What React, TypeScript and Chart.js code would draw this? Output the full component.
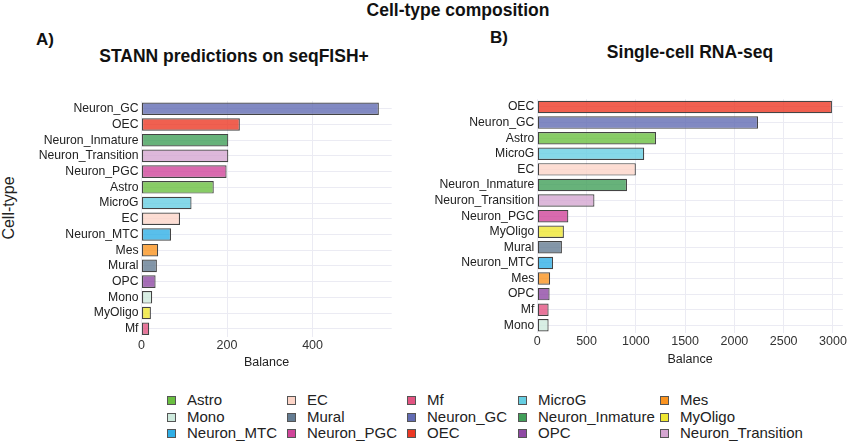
import React, { useEffect, useRef } from 'react';
import Chart from 'chart.js/auto';

// ---- data ----
const leftCategories = ['Neuron_GC', 'OEC', 'Neuron_Inmature', 'Neuron_Transition', 'Neuron_PGC', 'Astro', 'MicroG', 'EC', 'Neuron_MTC', 'Mes', 'Mural', 'OPC', 'Mono', 'MyOligo', 'Mf'];
const leftValues = [555, 230, 203, 203, 199, 169, 117, 90, 69, 39, 36, 33, 25, 22, 18];
const leftMax = 585;
const leftTicks = [0, 200, 400];

const rightCategories = ['OEC', 'Neuron_GC', 'Astro', 'MicroG', 'EC', 'Neuron_Inmature', 'Neuron_Transition', 'Neuron_PGC', 'MyOligo', 'Mural', 'Neuron_MTC', 'Mes', 'OPC', 'Mf', 'Mono'];
const rightValues = [2990, 2240, 1205, 1085, 1000, 910, 580, 315, 270, 250, 160, 130, 125, 115, 115];
const rightMax = 3100;
const rightTicks = [0, 500, 1000, 1500, 2000, 2500, 3000];

const legendLabels = ['Astro', 'EC', 'Mf', 'MicroG', 'Mes', 'Mono', 'Mural', 'Neuron_GC', 'Neuron_Inmature', 'MyOligo', 'Neuron_MTC', 'Neuron_PGC', 'OEC', 'OPC', 'Neuron_Transition'];

const mainTitle = 'Cell-type composition';
const leftTitle = 'STANN predictions on seqFISH+';
const rightTitle = 'Single-cell RNA-seq';
const xTitle = 'Balance';
const yTitle = 'Cell-type';

// ---- styles ----
const palette: Record<string, string> = {
  Astro: '#6ABF40',
  EC: '#FDD5C8',
  Mf: '#E25381',
  MicroG: '#66CEE2',
  Mes: '#FA931F',
  Mono: '#CEEADD',
  Mural: '#647C92',
  Neuron_GC: '#626CB3',
  Neuron_Inmature: '#419F59',
  MyOligo: '#EFE731',
  Neuron_MTC: '#30AFE6',
  Neuron_PGC: '#D0459A',
  OEC: '#EC3824',
  OPC: '#8F49A4',
  Neuron_Transition: '#D5A6D1',
};

const FONT = '"Liberation Sans", Arial, Helvetica, sans-serif';
const GRID = '#EBEBF3';
const BORDER = '#444444';

function rgba(hex: string, a: number) {
  const n = parseInt(hex.slice(1), 16);
  return `rgba(${(n >> 16) & 255},${(n >> 8) & 255},${n & 255},${a})`;
}

type PanelProps = {
  categories: string[];
  values: number[];
  max: number;
  tickValues: number[];
  width: number;
  height: number;
  yWidth: number;
  xHeight: number;
  padTop: number;
  padRight: number;
  titlePad: number;
};

function Panel(p: PanelProps) {
  const ref = useRef<HTMLCanvasElement | null>(null);
  useEffect(() => {
    if (!ref.current) return;
    const chart = new Chart(ref.current, {
      type: 'bar',
      data: {
        labels: p.categories,
        datasets: [
          {
            data: p.values,
            backgroundColor: p.categories.map((c) => rgba(palette[c], 0.8)),
            borderColor: BORDER,
            borderWidth: 1.2,
            borderSkipped: false,
            barPercentage: 0.8,
            categoryPercentage: 1,
          },
        ],
      },
      options: {
        indexAxis: 'y',
        animation: false,
        responsive: false,
        maintainAspectRatio: false,
        layout: { padding: { top: p.padTop, right: p.padRight, left: 0, bottom: 0 } },
        plugins: { legend: { display: false }, tooltip: { enabled: false } },
        scales: {
          x: {
            type: 'linear',
            min: 0,
            max: p.max,
            afterBuildTicks: (s: any) => {
              s.ticks = p.tickValues.map((v) => ({ value: v }));
            },
            ticks: {
              padding: 1,
              color: '#333',
              font: { family: FONT, size: 12.5 },
              callback: (v: any) => String(v),
            },
            grid: { color: GRID, drawTicks: false, lineWidth: 1 },
            border: { display: false },
            title: {
              display: true,
              text: xTitle,
              color: '#222',
              font: { family: FONT, size: 12.5 },
              padding: { top: 0, bottom: p.titlePad },
            },
            afterFit: (s: any) => {
              s.height = p.xHeight;
            },
          },
          y: {
            type: 'category',
            offset: true,
            ticks: { padding: 3, color: '#222', autoSkip: false, font: { family: FONT, size: 12.2 } },
            grid: { offset: false, color: GRID, drawTicks: false, lineWidth: 1 },
            border: { display: false },
            afterFit: (s: any) => {
              s.width = p.yWidth;
            },
          },
        },
      } as any,
    });
    return () => chart.destroy();
  }, []);
  return <canvas ref={ref} width={p.width} height={p.height} style={{ width: p.width, height: p.height, display: 'block' }} />;
}

const abs = (left: number, top: number): React.CSSProperties => ({ position: 'absolute', left, top });

export default function App() {
  const colBox = [167, 287, 407, 518, 660];
  const rowY = [400, 417, 433];
  return (
    <div style={{ position: 'absolute', left: 0, top: 0, width: 848, height: 444, background: '#fff', fontFamily: FONT, overflow: 'hidden' }}>
      <div style={{ ...abs(258, 0), width: 400, textAlign: 'center', fontWeight: 'bold', fontSize: 17.5, lineHeight: '20px', color: '#111' }}>{mainTitle}</div>
      <div style={{ ...abs(36, 30), fontWeight: 'bold', fontSize: 17, lineHeight: '20px', color: '#111' }}>A)</div>
      <div style={{ ...abs(34, 46), width: 400, textAlign: 'center', fontWeight: 'bold', fontSize: 17.5, lineHeight: '20px', color: '#111' }}>{leftTitle}</div>
      <div style={{ ...abs(490, 28), fontWeight: 'bold', fontSize: 17, lineHeight: '20px', color: '#111' }}>B)</div>
      <div style={{ ...abs(490, 42), width: 400, textAlign: 'center', fontWeight: 'bold', fontSize: 17.5, lineHeight: '20px', color: '#111' }}>{rightTitle}</div>
      <div
        style={{
          ...abs(9 - 50, 208 - 10),
          width: 100,
          height: 20,
          lineHeight: '20px',
          textAlign: 'center',
          fontSize: 16,
          color: '#222',
          transform: 'rotate(-90deg)',
        }}
      >
        {yTitle}
      </div>
      <div style={abs(0, 90)}>
        <Panel categories={leftCategories} values={leftValues} max={leftMax} tickValues={leftTicks} width={400} height={290} yWidth={141.5} xHeight={43.4} padTop={10.9} padRight={8.3} titlePad={9.5} />
      </div>
      <div style={abs(424, 88)}>
        <Panel categories={rightCategories} values={rightValues} max={rightMax} tickValues={rightTicks} width={424} height={290} yWidth={113.3} xHeight={44.9} padTop={11.2} padRight={4.7} titlePad={10.5} />
      </div>
      {legendLabels.map((lab, i) => {
        const r = Math.floor(i / 5);
        const c = i % 5;
        return (
          <React.Fragment key={lab}>
            <div style={{ ...abs(colBox[c], rowY[r] - 4.5), width: 7, height: 7, background: palette[lab], border: '1px solid #555' }} />
            <div style={{ ...abs(colBox[c] + 20, rowY[r] - 9), fontSize: 15, lineHeight: '18px', color: '#222', whiteSpace: 'nowrap' }}>{lab}</div>
          </React.Fragment>
        );
      })}
    </div>
  );
}
